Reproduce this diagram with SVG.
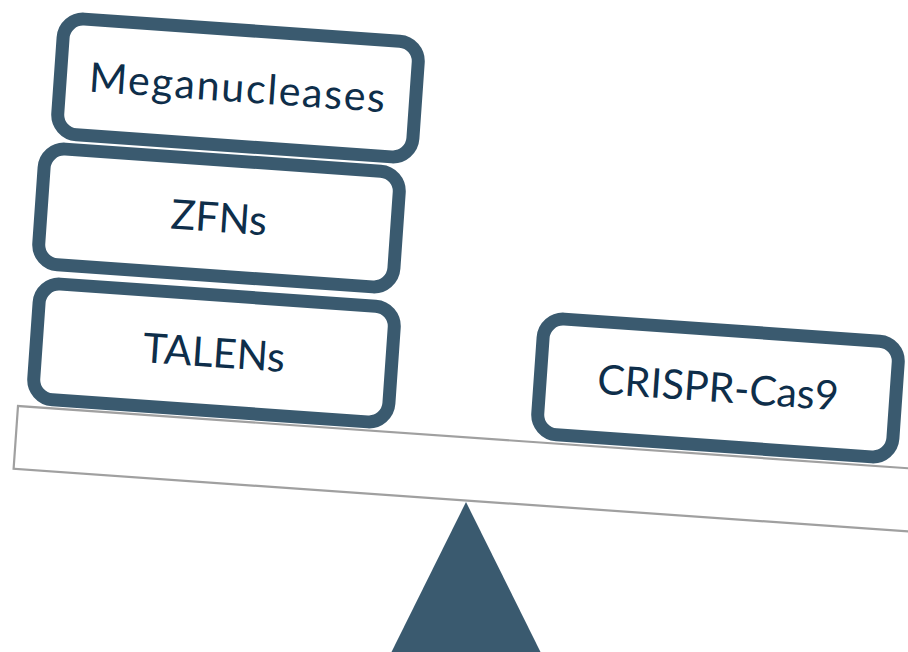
<svg xmlns="http://www.w3.org/2000/svg" width="908" height="652" viewBox="0 0 908 652">
<style>
.box{fill:#ffffff;stroke:#3a5a6f;stroke-width:13}
.lbl{font-family:Lato,"Open Sans",sans-serif;font-size:41px;fill:#0e2e4a;text-anchor:middle}
.beam{fill:#ffffff;stroke:#a0a0a0;stroke-width:2.2}
</style>
<rect width="908" height="652" fill="#ffffff"/>
<g id="beam"><rect class="beam" x="0" y="0" width="1000" height="63" transform="translate(18 406) rotate(4)"/></g>
<g id="fulcrum"><polygon points="466,502 391,653 541,653" fill="#3a5a6f"/></g>
<g id="connectors"></g>
<g id="meganucleases" transform="translate(238 88) rotate(4)">
<rect class="box" x="-178" y="-58" width="356" height="116" rx="20"/>
<text class="lbl" x="0" y="14" letter-spacing="1.8">Meganucleases</text>
</g>
<g id="zfns" transform="translate(219 218) rotate(4)">
<rect class="box" x="-178" y="-58" width="356" height="116" rx="20"/>
<text class="lbl" x="0" y="14">ZFNs</text>
</g>
<g id="talens" transform="translate(214 353) rotate(4)">
<rect class="box" x="-178" y="-58" width="356" height="116" rx="20"/>
<text class="lbl" x="0" y="14">TALENs</text>
</g>
<g id="crispr" transform="translate(718 388) rotate(4)">
<rect class="box" x="-178" y="-58" width="356" height="116" rx="20"/>
<text class="lbl" x="0" y="14">CRISPR-Cas9</text>
</g>
</svg>
